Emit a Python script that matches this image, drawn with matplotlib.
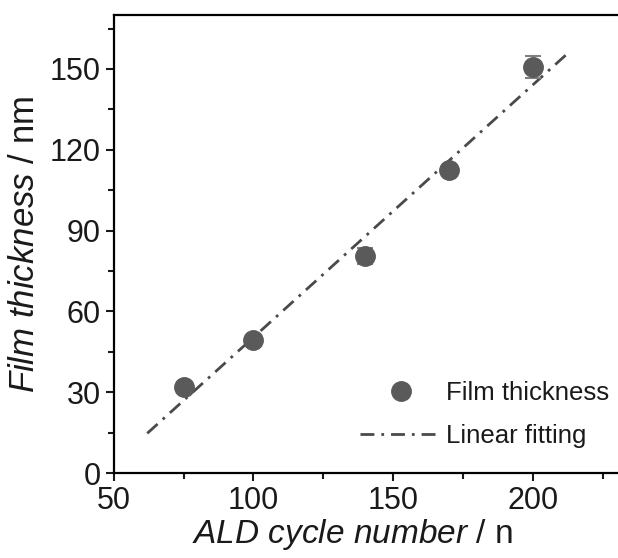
import numpy as np
import matplotlib.pyplot as plt
from matplotlib.ticker import MultipleLocator

plt.rcParams['font.family'] = ['Liberation Sans', 'DejaVu Sans']
plt.rcParams['mathtext.fontset'] = 'custom'
plt.rcParams['mathtext.rm'] = 'Liberation Sans'
plt.rcParams['mathtext.it'] = 'Liberation Sans:italic'

# data
cycles = [75, 100, 140, 170, 200]
thickness = [32, 49.6, 80.5, 112.5, 150.8]
thickness_err = [1.0, 1.0, 3.0, 1.5, 4.0]
fit_range = [62, 213]

# linear fit through the points
slope, intercept = np.polyfit(cycles, thickness, 1)
fit_x = np.array(fit_range)
fit_y = slope * fit_x + intercept

fig = plt.figure(figsize=(6.18, 5.58), dpi=100)
ax = fig.add_axes([0.184, 0.152, 0.814, 0.821])

grey = '#5a5a5a'
eb = ax.errorbar(cycles, thickness, yerr=thickness_err, fmt='o', color=grey,
                 markersize=14, ecolor='#808080', elinewidth=1.2, capsize=6,
                 capthick=1.5, zorder=3)
fit_line, = ax.plot(fit_x, fit_y, color='#4a4a4a', lw=2,
                    linestyle=(0, (5, 2.5, 1, 2.5)), zorder=2)

ax.set_xlim(50, 230)
ax.set_ylim(0, 170)
ax.xaxis.set_major_locator(MultipleLocator(50))
ax.xaxis.set_minor_locator(MultipleLocator(25))
ax.yaxis.set_major_locator(MultipleLocator(30))
ax.yaxis.set_minor_locator(MultipleLocator(15))

for s in ['left', 'bottom', 'top']:
    ax.spines[s].set_linewidth(1.6)
ax.spines['right'].set_visible(False)
ax.tick_params(which='both', direction='out', width=1.5, colors='#1a1a1a',
               labelsize=22, top=False, right=False)
ax.tick_params(which='major', length=6)
ax.tick_params(which='minor', length=4)

ax.set_xlabel(r'$\mathit{ALD\ cycle\ number}$ / n', fontsize=24,
              color='#1a1a1a')
ax.xaxis.set_label_coords(0.474, -0.095)
ax.set_ylabel(r'$\mathit{Film\ thickness}$ / nm', fontsize=25,
              color='#1a1a1a', labelpad=6)

leg = ax.legend([eb.lines[0], fit_line], ['Film thickness', 'Linear fitting'],
                loc='lower right', bbox_to_anchor=(1.016, 0.022), frameon=False,
                fontsize=18.5, handlelength=3.2, handletextpad=0.15,
                labelspacing=0.72, numpoints=1, borderaxespad=0.2)
for t in leg.get_texts():
    t.set_color('#1a1a1a')

fig.savefig('out.png', dpi=100)
